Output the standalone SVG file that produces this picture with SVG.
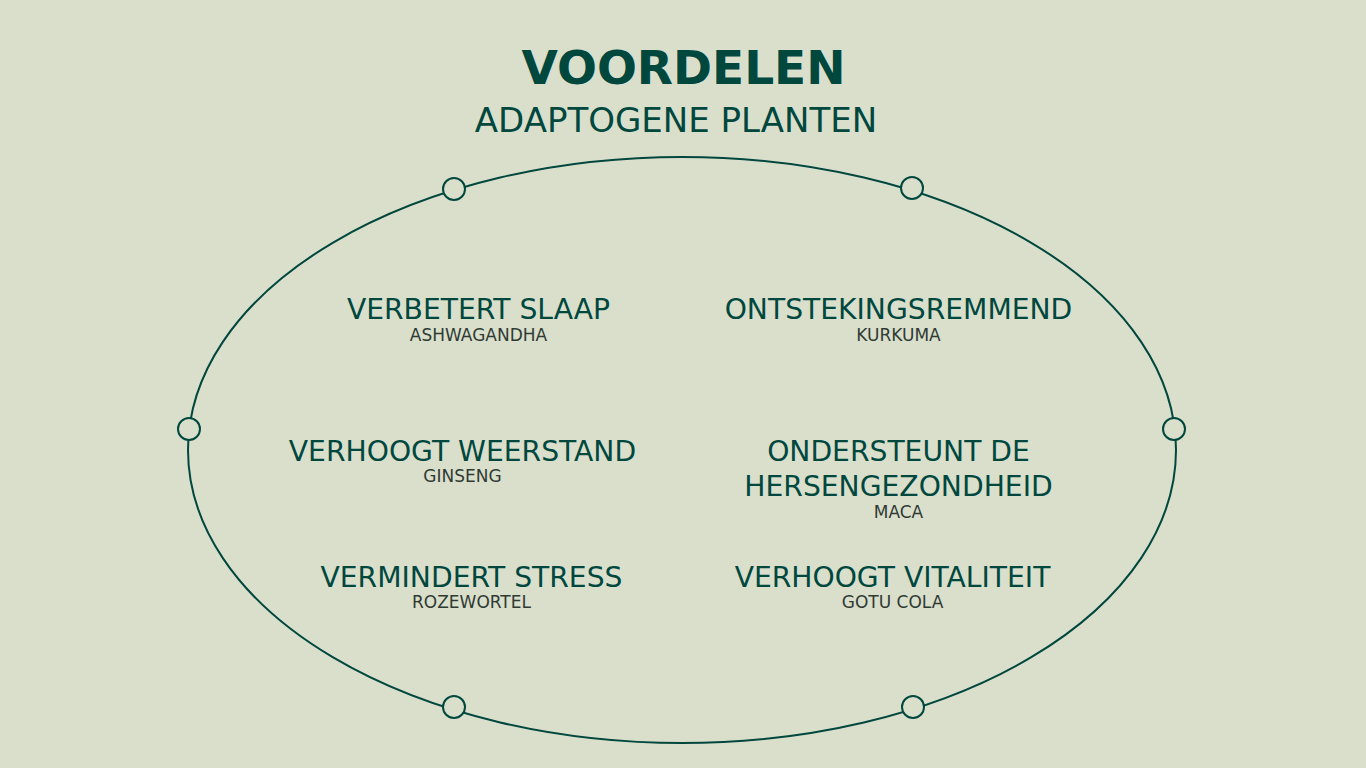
<svg xmlns="http://www.w3.org/2000/svg" width="1366" height="768" viewBox="0 0 1366 768">
<style>
.t{font-family:"DejaVu Sans",sans-serif;text-anchor:middle}
.title{font-size:47px;font-weight:bold;fill:#00473e}
.subt{font-size:34px;fill:#00473e}
.lbl{font-size:28.2px;fill:#00473e}
.sub{font-size:17px;fill:#2f3a33}
.ring{fill:none;stroke:#00473e;stroke-width:2}
.dot{fill:#dadfcc;stroke:#00473e;stroke-width:2}
</style>
<rect width="1366" height="768" fill="#dadfcc"/>
<g id="title">
<text class="t title" x="683.5" y="84">VOORDELEN</text>
<text class="t subt" x="676" y="132">ADAPTOGENE PLANTEN</text>
</g>
<g id="connectors">
<ellipse class="ring" cx="682" cy="450" rx="494" ry="293"/>
</g>
<g id="dots">
<circle class="dot" cx="454" cy="189" r="11"/>
<circle class="dot" cx="912" cy="188" r="11"/>
<circle class="dot" cx="189" cy="429" r="11"/>
<circle class="dot" cx="1174" cy="429" r="11"/>
<circle class="dot" cx="454" cy="707" r="11"/>
<circle class="dot" cx="913" cy="707" r="11"/>
</g>
<g id="node-slaap">
<text class="t lbl" x="478.5" y="319">VERBETERT SLAAP</text>
<text class="t sub" x="478.5" y="341">ASHWAGANDHA</text>
</g>
<g id="node-ontsteking">
<text class="t lbl" x="898.5" y="319">ONTSTEKINGSREMMEND</text>
<text class="t sub" x="898.5" y="341">KURKUMA</text>
</g>
<g id="node-weerstand">
<text class="t lbl" x="462.5" y="460.5">VERHOOGT WEERSTAND</text>
<text class="t sub" x="462.5" y="481.5">GINSENG</text>
</g>
<g id="node-hersenen">
<text class="t lbl" x="898.5" y="460.5">ONDERSTEUNT DE</text>
<text class="t lbl" x="898.5" y="496">HERSENGEZONDHEID</text>
<text class="t sub" x="898.5" y="517.5">MACA</text>
</g>
<g id="node-stress">
<text class="t lbl" x="471.5" y="586.5">VERMINDERT STRESS</text>
<text class="t sub" x="471.5" y="607.5">ROZEWORTEL</text>
</g>
<g id="node-vitaliteit">
<text class="t lbl" x="892.5" y="586.5">VERHOOGT VITALITEIT</text>
<text class="t sub" x="892.5" y="607.5">GOTU COLA</text>
</g>
</svg>
